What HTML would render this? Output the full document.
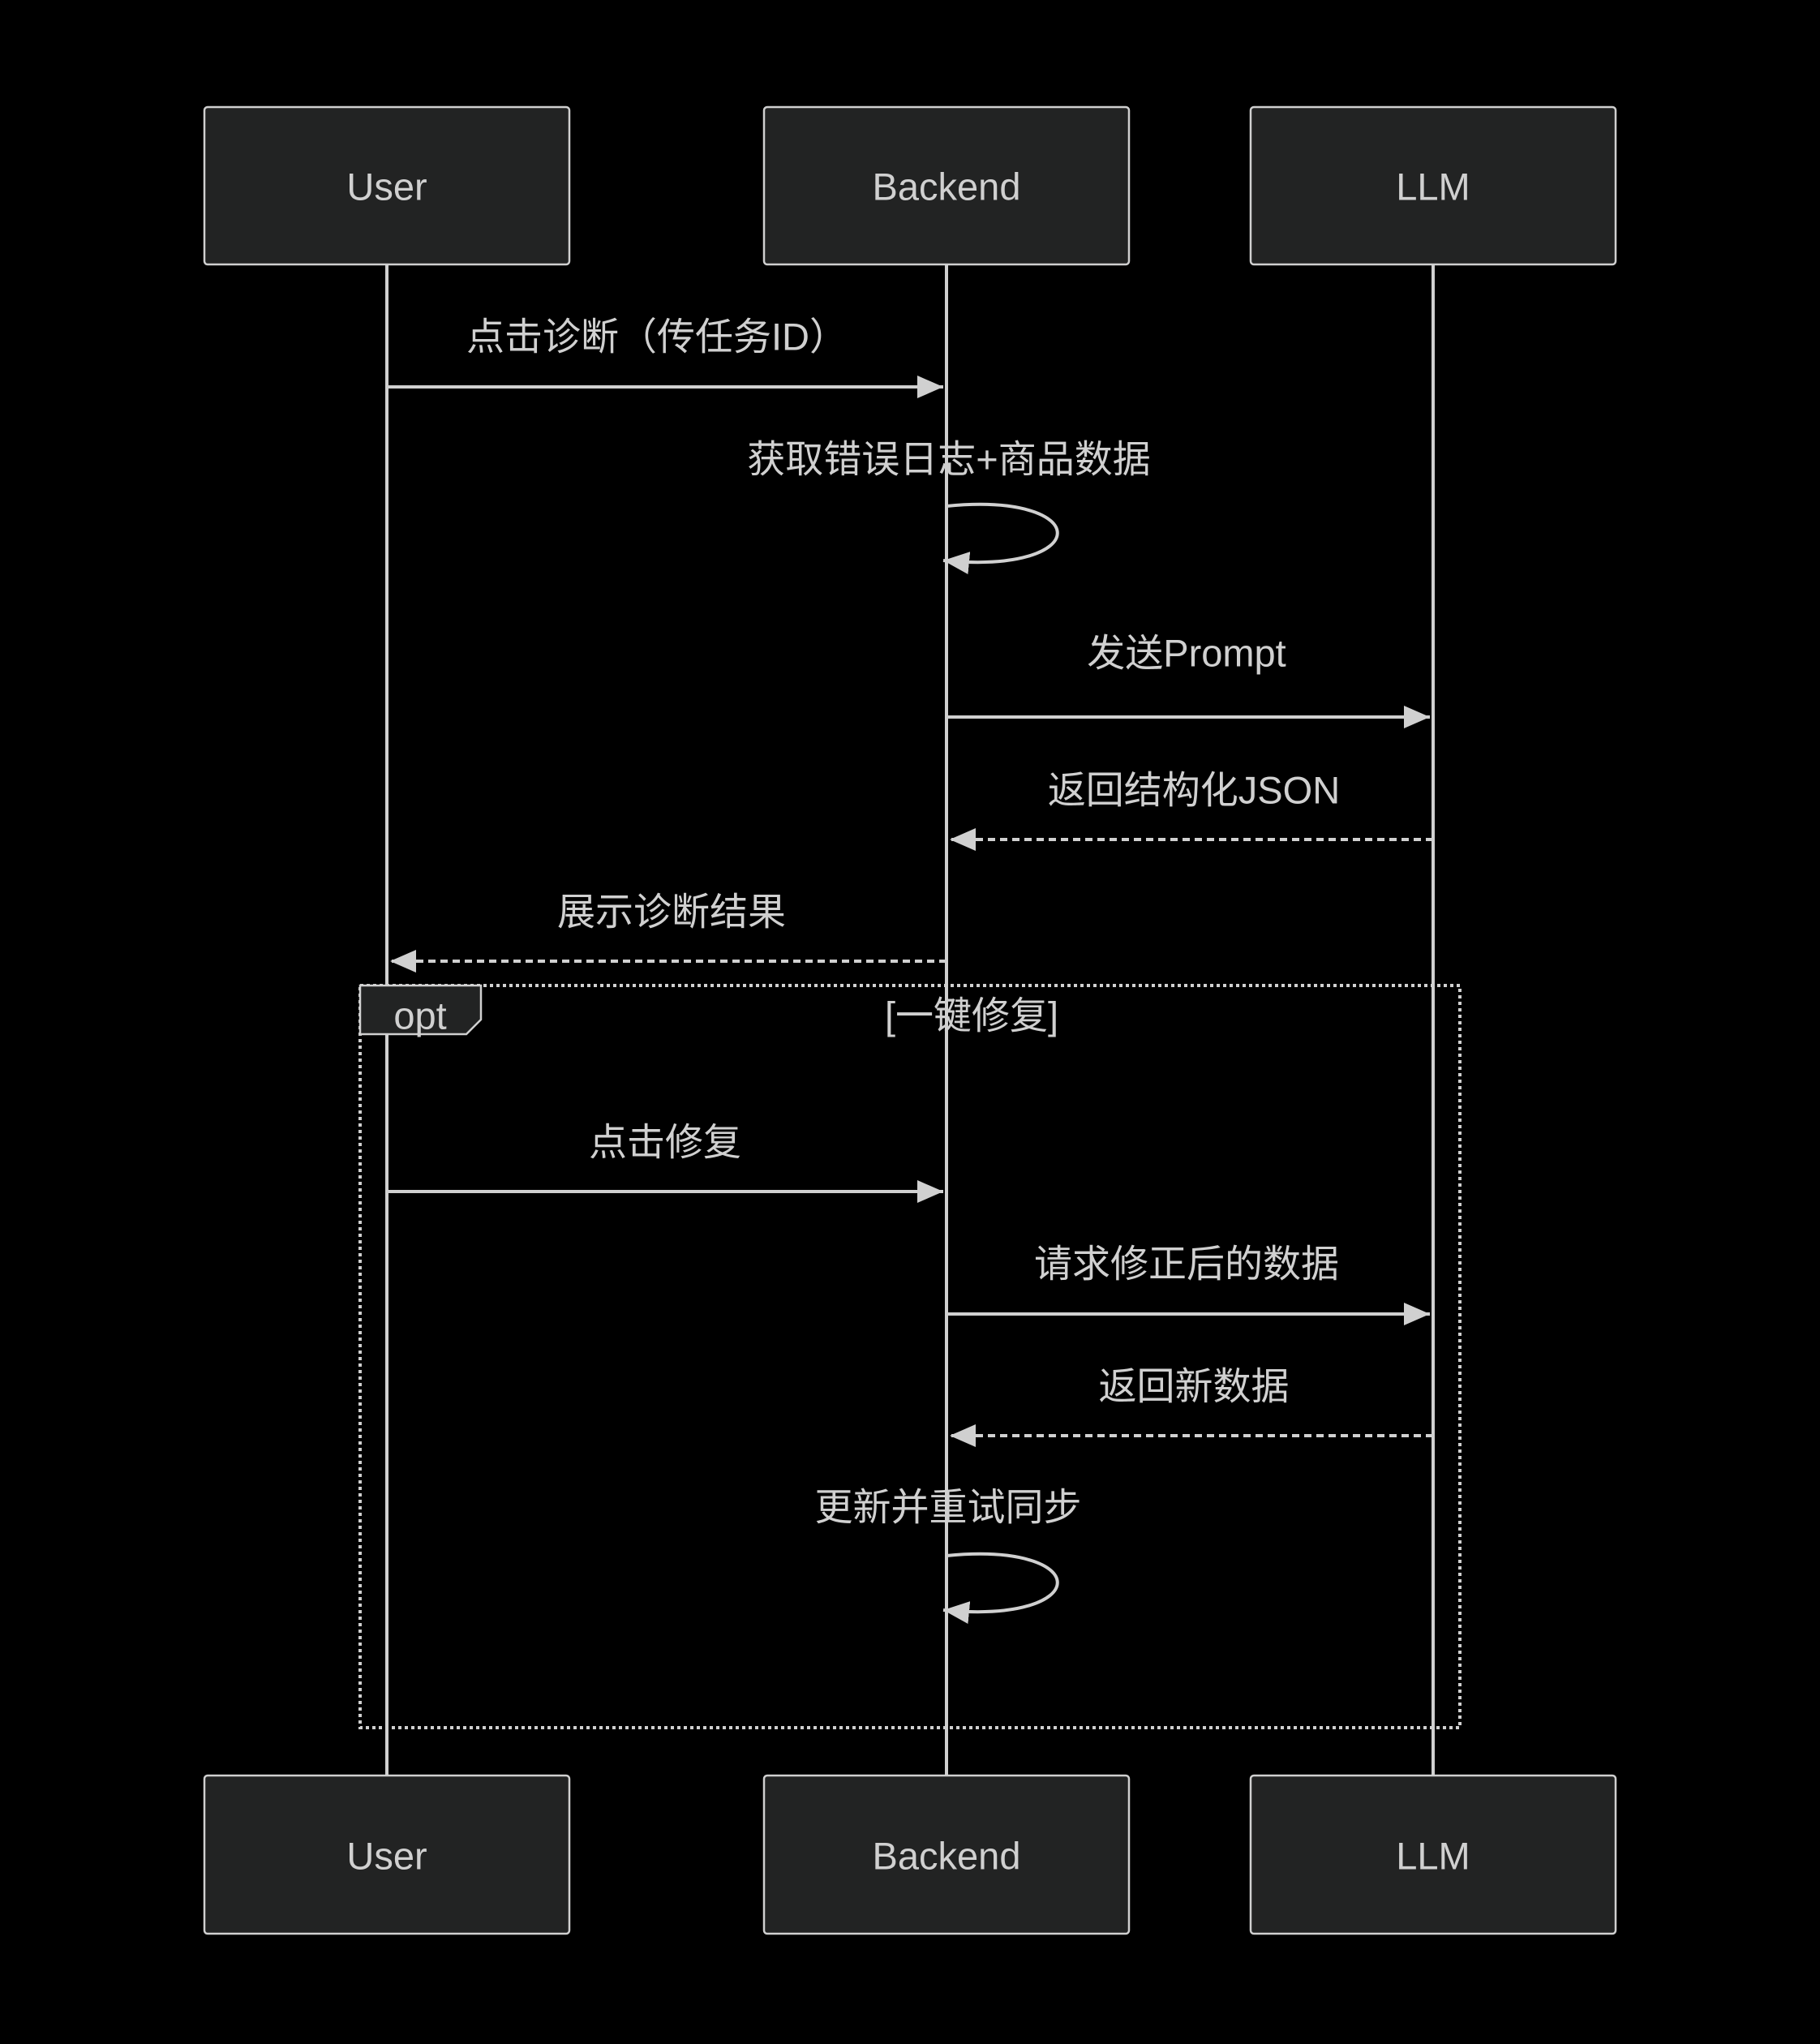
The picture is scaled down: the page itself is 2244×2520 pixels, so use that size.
<!DOCTYPE html>
<html><head><meta charset="utf-8"><style>
html,body{margin:0;padding:0;background:#000;}
svg{display:block;}
text{font-family:"Liberation Sans","Noto Sans CJK SC",sans-serif;fill:#d0d0d0;font-size:47px;}
</style></head><body>
<svg width="2244" height="2520" viewBox="0 0 2244 2520" xmlns="http://www.w3.org/2000/svg">
<defs>
<marker id="ah" markerWidth="32" markerHeight="28" refX="32" refY="14" orient="auto" markerUnits="userSpaceOnUse">
<path d="M0,0 L32,14 L0,28 Z" fill="#d0d0d0"/>
</marker>
</defs>
<rect width="2244" height="2520" fill="#000"/>
<g stroke="#d0d0d0" stroke-width="4">
<line x1="477" y1="326" x2="477" y2="2189"/>
<line x1="1167" y1="326" x2="1167" y2="2189"/>
<line x1="1767" y1="326" x2="1767" y2="2189"/>
</g>
<g fill="#222323" stroke="#d0d0d0" stroke-width="2.5">
<rect x="252" y="132" width="450" height="194" rx="4"/>
<rect x="942" y="132" width="450" height="194" rx="4"/>
<rect x="1542" y="132" width="450" height="194" rx="4"/>
<rect x="252" y="2189" width="450" height="195" rx="4"/>
<rect x="942" y="2189" width="450" height="195" rx="4"/>
<rect x="1542" y="2189" width="450" height="195" rx="4"/>
</g>
<g text-anchor="middle" dominant-baseline="central">
<text x="477" y="230">User</text>
<text x="1167" y="230">Backend</text>
<text x="1767" y="230">LLM</text>
<text x="477" y="2288">User</text>
<text x="1167" y="2288">Backend</text>
<text x="1767" y="2288">LLM</text>
</g>
<rect x="444" y="1215" width="1356" height="915" fill="none" stroke="#d0d0d0" stroke-width="4" stroke-dasharray="4,4"/>
<path d="M444,1215 L593,1215 L593,1257 L575,1275 L444,1275 Z" fill="#222323" stroke="#d0d0d0" stroke-width="2.5"/>
<g stroke="#d0d0d0" stroke-width="4" fill="none">
<line x1="477" y1="477" x2="1163" y2="477" marker-end="url(#ah)"/>
<path d="M1167,624 C1350,606 1350,709 1163,691" marker-end="url(#ah)"/>
<line x1="1167" y1="884" x2="1763" y2="884" marker-end="url(#ah)"/>
<line x1="1767" y1="1035" x2="1171" y2="1035" stroke-dasharray="9,6" marker-end="url(#ah)"/>
<line x1="1167" y1="1185" x2="481" y2="1185" stroke-dasharray="9,6" marker-end="url(#ah)"/>
<line x1="477" y1="1469" x2="1163" y2="1469" marker-end="url(#ah)"/>
<line x1="1167" y1="1620" x2="1763" y2="1620" marker-end="url(#ah)"/>
<line x1="1767" y1="1770" x2="1171" y2="1770" stroke-dasharray="9,6" marker-end="url(#ah)"/>
<path d="M1167,1918 C1350,1900 1350,2003 1163,1985" marker-end="url(#ah)"/>
</g>
<g text-anchor="middle" dominant-baseline="central">
<text x="810" y="415">点击诊断（传任务ID）</text>
<text x="1170" y="566">获取错误日志+商品数据</text>
<text x="1463" y="805">发送Prompt</text>
<text x="1472" y="974">返回结构化JSON</text>
<text x="828" y="1124">展示诊断结果</text>
<text x="518" y="1252">opt</text>
<text x="1198" y="1252">[一键修复]</text>
<text x="820" y="1408">点击修复</text>
<text x="1463" y="1558">请求修正后的数据</text>
<text x="1472" y="1709">返回新数据</text>
<text x="1169" y="1858">更新并重试同步</text>
</g>
</svg>
</body></html>
